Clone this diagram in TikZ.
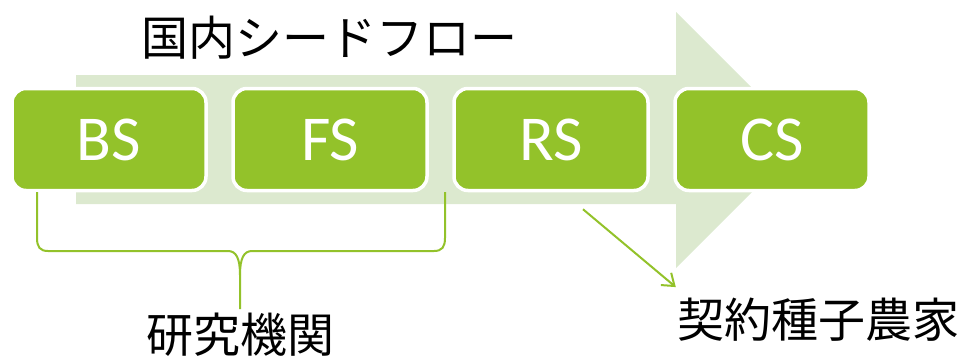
\documentclass[tikz,border=0pt]{standalone}
\usepackage{fontspec}
\setmainfont{Carlito}
\newfontfamily\jpfont{Noto Sans CJK JP}
\usetikzlibrary{arrows.meta,calc}
\definecolor{leaf}{HTML}{93C22A}
\definecolor{pale}{HTML}{DCE9CF}
\tikzset{
  stagebox/.style={draw=white, line width=3.5pt, fill=leaf, rounded corners=14pt,
    minimum width=194pt, minimum height=102pt, inner sep=0pt,
    text=white, font=\fontsize{64}{64}\selectfont},
  jplabel/.style={inner sep=0pt, font=\jpfont\fontsize{47}{47}\selectfont},
  greenline/.style={draw=leaf, line width=2pt}
}
\begin{document}
\begin{tikzpicture}[x=1pt,y=-1pt]
\useasboundingbox (0,0) rectangle (966,357);
% big background arrow
\fill[pale] (76,75) -- (676,75) -- (676,12) -- (804,140) -- (676,268) -- (676,204) -- (76,204) -- cycle;
% title
\node[jplabel] (title) at (329,38) {国内シードフロー};
% stage boxes
\node[stagebox] (bs) at (109,139.5) {BS};
\node[stagebox] (fs) at (330,139.5) {FS};
\node[stagebox] (rs) at (551,139.5) {RS};
\node[stagebox] (cs) at (772,139.5) {CS};
% labels
\node[jplabel] (inst) at (240,335) {研究機関};
\node[jplabel] (farm) at (818,320) {契約種子農家};
% brace
\draw[greenline] (37,192) -- (37,238) .. controls (37,247) and (40,251) .. (48,251)
  -- (228,251) .. controls (236,251) and (240,258) .. (240,275) -- (240,309);
\draw[greenline] (445,192) -- (445,238) .. controls (445,247) and (442,251) .. (434,251)
  -- (252,251) .. controls (244,251) and (240,258) .. (240,275);
% arrow to farmers
\coordinate (a1) at ($(rs.south)+(32,17)$);
\coordinate (a2) at ($(farm.north west)+(-1,-11)$);
\draw[greenline, -{Straight Barb[length=11pt,width=16pt]}] (a1) -- (a2);
\end{tikzpicture}
\end{document}
